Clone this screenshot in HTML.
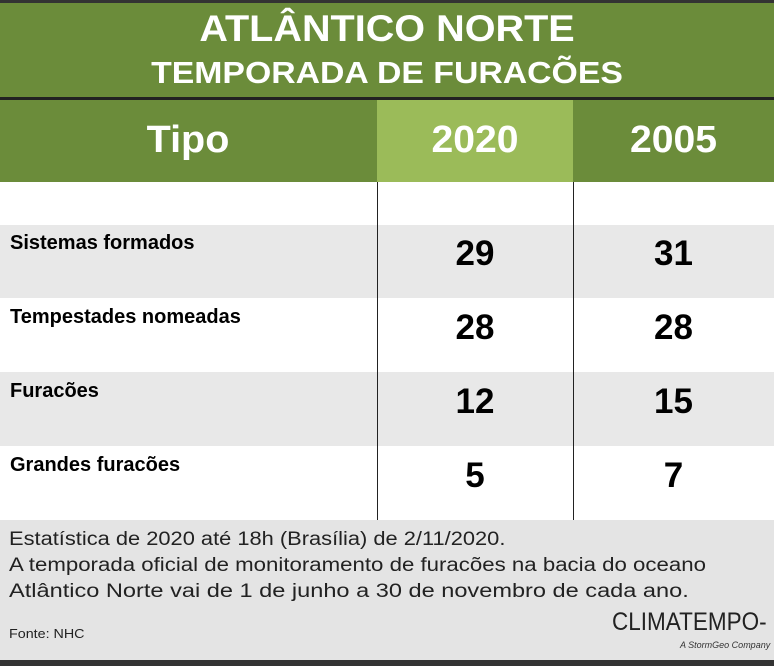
<!DOCTYPE html>
<html><head><meta charset="utf-8"><style>
body{margin:0;width:774px;height:666px;position:relative;overflow:hidden;background:#fff;font-family:"Liberation Sans",sans-serif}
div{position:absolute}
.t{white-space:nowrap}
.c{text-align:center}
.f{left:9px;font-size:19px;color:#222;transform-origin:0 0}
</style></head><body>
<div style="left:0;top:0;width:774px;height:3px;background:#333"></div>
<div style="left:0;top:3px;width:774px;height:94px;background:#6b8c3a"></div>
<div style="left:0;top:97px;width:774px;height:3px;background:#222"></div>
<div style="left:0;top:100px;width:774px;height:82px;background:#6b8c3a"></div>
<div style="left:377px;top:100px;width:196px;height:82px;background:#9bbb59"></div>
<div style="left:0;top:225px;width:774px;height:73px;background:#e8e8e8"></div>
<div style="left:0;top:372px;width:774px;height:74px;background:#e8e8e8"></div>
<div style="left:0;top:520px;width:774px;height:140px;background:#e4e4e4"></div>
<div style="left:0;top:660px;width:774px;height:6px;background:#333"></div>
<div style="left:377px;top:182px;width:1px;height:338px;background:#222"></div>
<div style="left:573px;top:182px;width:1px;height:338px;background:#222"></div>

<div class="t c" style="left:0;width:774px;top:8px;font-size:37px;font-weight:bold;color:#fff;transform:scaleX(1.07)">ATLÂNTICO NORTE</div>
<div class="t c" style="left:0;width:774px;top:55px;font-size:31px;font-weight:bold;color:#fff;transform:scaleX(1.09)">TEMPORADA DE FURACÕES</div>
<div class="t c" style="left:88px;width:200px;top:119px;font-size:38px;font-weight:bold;color:#fff;transform:scaleX(1.04)">Tipo</div>
<div class="t c" style="left:377px;width:196px;top:119px;font-size:38px;font-weight:bold;color:#fff;transform:scaleX(1.03)">2020</div>
<div class="t c" style="left:573px;width:201px;top:119px;font-size:38px;font-weight:bold;color:#fff;transform:scaleX(1.03)">2005</div>

<div class="t" style="left:10px;top:232px;font-size:20px;font-weight:bold">Sistemas formados</div>
<div class="t" style="left:10px;top:306px;font-size:20px;font-weight:bold">Tempestades nomeadas</div>
<div class="t" style="left:10px;top:380px;font-size:20px;font-weight:bold">Furacões</div>
<div class="t" style="left:10px;top:454px;font-size:20px;font-weight:bold">Grandes furacões</div>

<div class="t c" style="left:377px;width:196px;top:234px;font-size:35px;font-weight:bold">29</div>
<div class="t c" style="left:573px;width:201px;top:234px;font-size:35px;font-weight:bold">31</div>
<div class="t c" style="left:377px;width:196px;top:308px;font-size:35px;font-weight:bold">28</div>
<div class="t c" style="left:573px;width:201px;top:308px;font-size:35px;font-weight:bold">28</div>
<div class="t c" style="left:377px;width:196px;top:382px;font-size:35px;font-weight:bold">12</div>
<div class="t c" style="left:573px;width:201px;top:382px;font-size:35px;font-weight:bold">15</div>
<div class="t c" style="left:377px;width:196px;top:456px;font-size:35px;font-weight:bold">5</div>
<div class="t c" style="left:573px;width:201px;top:456px;font-size:35px;font-weight:bold">7</div>

<div class="t f" style="top:529px;transform:scaleX(1.15)">Estatística de 2020 até 18h (Brasília) de 2/11/2020.</div>
<div class="t f" style="top:555px;transform:scaleX(1.17)">A temporada oficial de monitoramento de furacões na bacia do oceano</div>
<div class="t f" style="top:581px;transform:scaleX(1.24)">Atlântico Norte vai de 1 de junho a 30 de novembro de cada ano.</div>
<div class="t" style="left:9px;top:626px;font-size:13px;color:#222;transform-origin:0 0;transform:scaleX(1.1)">Fonte: NHC</div>
<div class="t" style="left:612px;top:608px;font-size:25px;color:#222;transform-origin:0 0;transform:scaleX(0.9)">CLIMATEMPO-</div>
<div class="t" style="left:680px;top:640px;font-size:9px;font-style:italic;color:#333">A StormGeo Company</div>
</body></html>
